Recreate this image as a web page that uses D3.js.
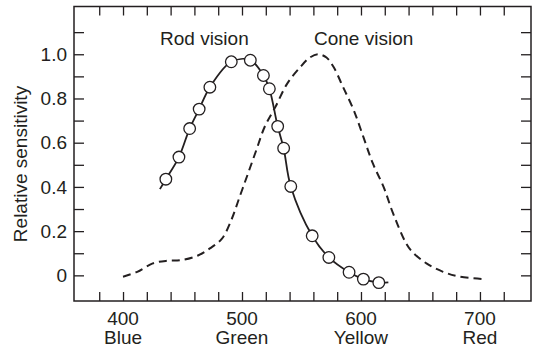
<!DOCTYPE html>
<html>
<head>
<meta charset="utf-8">
<script src="https://cdn.jsdelivr.net/npm/d3@7"></script>
<style>
  body { margin: 0; background: #fff; }
  text { font-family: "Liberation Sans", Arial, Helvetica, sans-serif; fill: #231f20; }
</style>
</head>
<body>
<div id="svgcontainer"></div>
<script>
var width = 533;
var height = 350;

// rod vision: measured points (circles)
var rodNm = [436, 447, 456, 464, 473, 491, 507, 518, 523, 530, 535, 541, 559, 573, 590, 602, 615];
var rodSens = [0.435, 0.535, 0.664, 0.752, 0.851, 0.966, 0.973, 0.904, 0.844, 0.674, 0.575, 0.402, 0.179, 0.081, 0.014, -0.017, -0.033];
// rod curve runs a little past the first and last circle
var rodStart = [431, 0.39];
var rodEnd = [623, -0.032];

// cone vision: dashed curve
var coneNm = [400, 412, 425, 437, 449, 463, 473, 483, 491, 498, 505, 512, 519, 528, 538, 549, 557, 564, 571, 577, 585, 594, 602, 610, 619, 627, 638, 643, 655, 669, 683, 704];
var coneSens = [-0.006, 0.016, 0.054, 0.066, 0.069, 0.09, 0.122, 0.165, 0.25, 0.355, 0.46, 0.566, 0.671, 0.761, 0.867, 0.942, 0.985, 1.0, 0.985, 0.942, 0.851, 0.746, 0.626, 0.506, 0.4, 0.28, 0.144, 0.107, 0.054, 0.016, -0.006, -0.017];

var xLabelNm = [400, 500, 600, 700];
var xLabelColor = ["Blue", "Green", "Yellow", "Red"];
var yLabels = [0, 0.2, 0.4, 0.6, 0.8, 1.0];

var plotLeft = 74, plotRight = 531, plotTop = 6.5, plotBottom = 301;
var ink = "#231f20";
var fontSize = "19px";

var x = d3.scaleLinear().domain([358.8, 742.9]).range([plotLeft, plotRight]);
var y = d3.scaleLinear().domain([-0.116, 1.216]).range([plotBottom, plotTop]);

var svg = d3.select("#svgcontainer")
   .append("svg")
   .attr("width", width)
   .attr("height", height);

var xTicks = d3.range(380, 721, 20);
var yTicks = d3.range(0, 11.5, 1).map(function(d) { return d / 10; });

// inward ticks on all four sides
function styleAxis(g) {
   g.select(".domain").remove();
   g.selectAll(".tick line").attr("stroke", ink).attr("stroke-width", 1.3);
   g.selectAll(".tick text").remove();
}

svg.append("g")
   .attr("transform", "translate(0," + plotBottom + ")")
   .call(d3.axisBottom(x).tickValues(xTicks).tickSize(-9))
   .call(styleAxis);

svg.append("g")
   .attr("transform", "translate(0," + plotTop + ")")
   .call(d3.axisTop(x).tickValues(xTicks).tickSize(-9))
   .call(styleAxis);

svg.append("g")
   .attr("transform", "translate(" + plotLeft + ",0)")
   .call(d3.axisLeft(y).tickValues(yTicks).tickSize(-10))
   .call(styleAxis);

svg.append("g")
   .attr("transform", "translate(" + plotRight + ",0)")
   .call(d3.axisRight(y).tickValues(yTicks).tickSize(-10))
   .call(styleAxis);

// frame
svg.append("rect")
   .attr("x", plotLeft)
   .attr("y", plotTop)
   .attr("width", plotRight - plotLeft)
   .attr("height", plotBottom - plotTop)
   .attr("fill", "none")
   .attr("stroke", ink)
   .attr("stroke-width", 1.5);

// tick labels
svg.selectAll(".ylab")
   .data(yLabels)
   .enter()
   .append("text")
   .attr("class", "ylab")
   .attr("x", plotLeft - 7)
   .attr("y", function(d) { return y(d); })
   .attr("dy", "0.35em")
   .attr("text-anchor", "end")
   .attr("font-size", fontSize)
   .text(function(d) { return d === 0 ? "0" : d.toFixed(1); });

svg.selectAll(".xlab")
   .data(xLabelNm)
   .enter()
   .append("text")
   .attr("class", "xlab")
   .attr("x", function(d) { return x(d); })
   .attr("y", 325)
   .attr("text-anchor", "middle")
   .attr("font-size", fontSize)
   .text(function(d) { return d; });

svg.selectAll(".xcol")
   .data(xLabelColor)
   .enter()
   .append("text")
   .attr("class", "xcol")
   .attr("x", function(d, i) { return x(xLabelNm[i]); })
   .attr("y", 343.5)
   .attr("text-anchor", "middle")
   .attr("font-size", fontSize)
   .text(function(d) { return d; });

svg.append("text")
   .attr("transform", "translate(27,164) rotate(-90)")
   .attr("text-anchor", "middle")
   .attr("font-size", fontSize)
   .text("Relative sensitivity");

// curves
var line = d3.line()
   .x(function(d) { return x(d[0]); })
   .y(function(d) { return y(d[1]); })
   .curve(d3.curveCatmullRom.alpha(0.5));

var conePts = coneNm.map(function(d, i) { return [d, coneSens[i]]; });
var rodPts = rodNm.map(function(d, i) { return [d, rodSens[i]]; });

svg.append("path")
   .attr("d", line(conePts))
   .attr("fill", "none")
   .attr("stroke", ink)
   .attr("stroke-width", 2)
   .attr("stroke-dasharray", "8,5");

svg.append("path")
   .attr("d", line([rodStart].concat(rodPts, [rodEnd])))
   .attr("fill", "none")
   .attr("stroke", ink)
   .attr("stroke-width", 1.8);

svg.selectAll(".rod")
   .data(rodPts)
   .enter()
   .append("circle")
   .attr("class", "rod")
   .attr("cx", function(d) { return x(d[0]); })
   .attr("cy", function(d) { return y(d[1]); })
   .attr("r", 5.8)
   .attr("fill", "#fff")
   .attr("stroke", ink)
   .attr("stroke-width", 1.3);

// curve names
svg.append("text")
   .attr("x", 160)
   .attr("y", 45)
   .attr("font-size", fontSize)
   .text("Rod vision");

svg.append("text")
   .attr("x", 314)
   .attr("y", 45)
   .attr("font-size", fontSize)
   .text("Cone vision");
</script>
</body>
</html>
